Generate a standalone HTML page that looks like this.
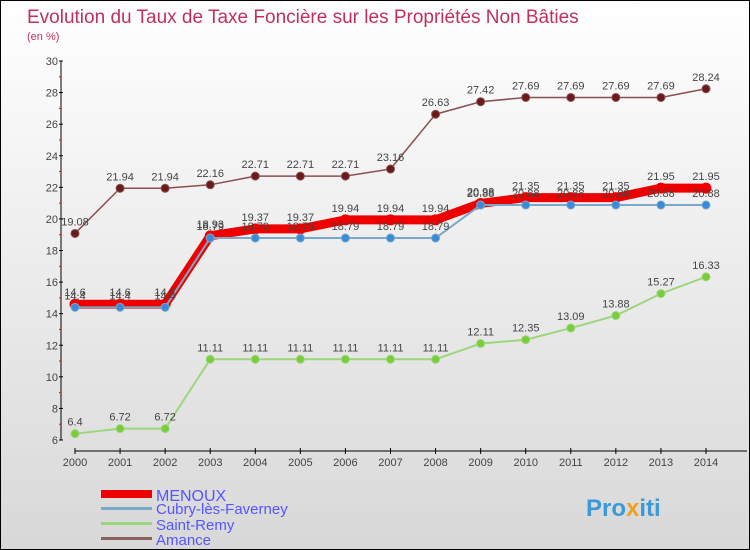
<!DOCTYPE html>
<html><head><meta charset="utf-8"><style>
body{margin:0}
#c{width:750px;height:550px;position:relative;box-sizing:border-box;border:1px solid #000;background:linear-gradient(#fff,#d8d8d8);font-family:"Liberation Sans",sans-serif;overflow:hidden}
</style></head><body>
<div id="c">
<svg id="s" width="748" height="548" style="position:absolute;left:0;top:0">
<text x="26" y="22" font-size="19" fill="#c0305a">Evolution du Taux de Taxe Foncière sur les Propriétés Non Bâties</text>
<text x="26" y="39" font-size="11" fill="#c0305a">(en %)</text>
<g id="ax"></g><g id="ser"></g>
<g>
<rect x="100" y="489" width="51" height="8" fill="#e00"/>
<text x="155" y="500" font-size="16" fill="#55f">MENOUX</text>
<rect x="100" y="506" width="51" height="3" fill="#7aa8c8"/>
<text x="155" y="513" font-size="15" fill="#55f">Cubry-lès-Faverney</text>
<rect x="100" y="521" width="51" height="3" fill="#9cd67c"/>
<text x="155" y="529" font-size="15" fill="#55f">Saint-Remy</text>
<rect x="100" y="536" width="51" height="3" fill="#8a6060"/>
<text x="155" y="544" font-size="15" fill="#55f">Amance</text>
</g>
<text x="585" y="515" font-size="24" font-weight="bold" fill="#3a9ad9">Pro<tspan fill="#f0a020">x</tspan>iti</text>
</svg>
</div>
<script>
const years=[2000,2001,2002,2003,2004,2005,2006,2007,2008,2009,2010,2011,2012,2013,2014];
const yTicks=[6,8,10,12,14,16,18,20,22,24,26,28,30];
const menoux=[14.6,14.6,14.6,18.93,19.37,19.37,19.94,19.94,19.94,20.98,21.35,21.35,21.35,21.95,21.95];
const cubry=[14.4,14.4,14.4,18.79,18.79,18.79,18.79,18.79,18.79,20.88,20.88,20.88,20.88,20.88,20.88];
const saintRemy=[6.4,6.72,6.72,11.11,11.11,11.11,11.11,11.11,11.11,12.11,12.35,13.09,13.88,15.27,16.33];
const amance=[19.08,21.94,21.94,22.16,22.71,22.71,22.71,23.16,26.63,27.42,27.69,27.69,27.69,27.69,28.24];
const NS="http://www.w3.org/2000/svg";
const X0=74,X1=705,Y0=439,Y1=60,YMIN=6,YMAX=30;
const xs=i=>X0+(X1-X0)*i/(years.length-1);
const ys=v=>Y0-(Y0-Y1)*(v-YMIN)/(YMAX-YMIN);
function mk(t,a,p){const e=document.createElementNS(NS,t);for(const k in a)e.setAttribute(k,a[k]);p.appendChild(e);return e;}
const ax=document.getElementById('ax');
let l=mk('line',{x1:X0-14,y1:Y1,x2:X0-14,y2:Y0,stroke:'#000'},ax);


l=mk('line',{x1:X0,y1:Y0+11,x2:746,y2:Y0+11,stroke:'#000'},ax);


yTicks.forEach(v=>{
 mk('line',{x1:X0-16,y1:ys(v),x2:X0-12,y2:ys(v),stroke:'#000'},ax);
 if(v<30)mk('line',{x1:X0-16,y1:ys(v+1),x2:X0-14,y2:ys(v+1),stroke:'#f00'},ax);
 const t=mk('text',{x:X0-17,y:ys(v)+4,'font-size':11,fill:'#444','text-anchor':'end'},ax);
 t.textContent=v;
 
 
});
years.forEach((y,i)=>{
 mk('line',{x1:xs(i),y1:Y0+8,x2:xs(i),y2:Y0+14,stroke:'#000'},ax);
 const t=mk('text',{x:xs(i),y:Y0+26,'font-size':11,fill:'#444','text-anchor':'middle'},ax);
 t.textContent=y;
 
 
});
const ser=document.getElementById('ser');
function draw(vals,color,w,dot,r,name){
 const g=mk('g',{},ser);
 
 
 const p=mk('polyline',{points:vals.map((v,i)=>xs(i)+','+ys(v)).join(' '),fill:'none',stroke:color,'stroke-width':w},g);
 
 
 vals.forEach((v,i)=>{
  const c=mk('circle',{cx:xs(i),cy:ys(v),r:r,fill:dot,stroke:color,'stroke-width':1},g);
  
  
  const t=mk('text',{x:xs(i),y:ys(v)-8,'font-size':11,fill:'#444','text-anchor':'middle'},g);
  t.textContent=v;
  
  
 });
}
draw(amance,'#8a5050',1.5,'#6a1a1a',4,'amance');
draw(saintRemy,'#9cd67c',2,'#7acc3a',4,'saint-remy');
draw(menoux,'#ee0000',9,'#ee0000',5,'menoux');
draw(cubry,'#7aa8c8',2,'#3a8ad9',4,'cubry');
</script>
</body></html>
